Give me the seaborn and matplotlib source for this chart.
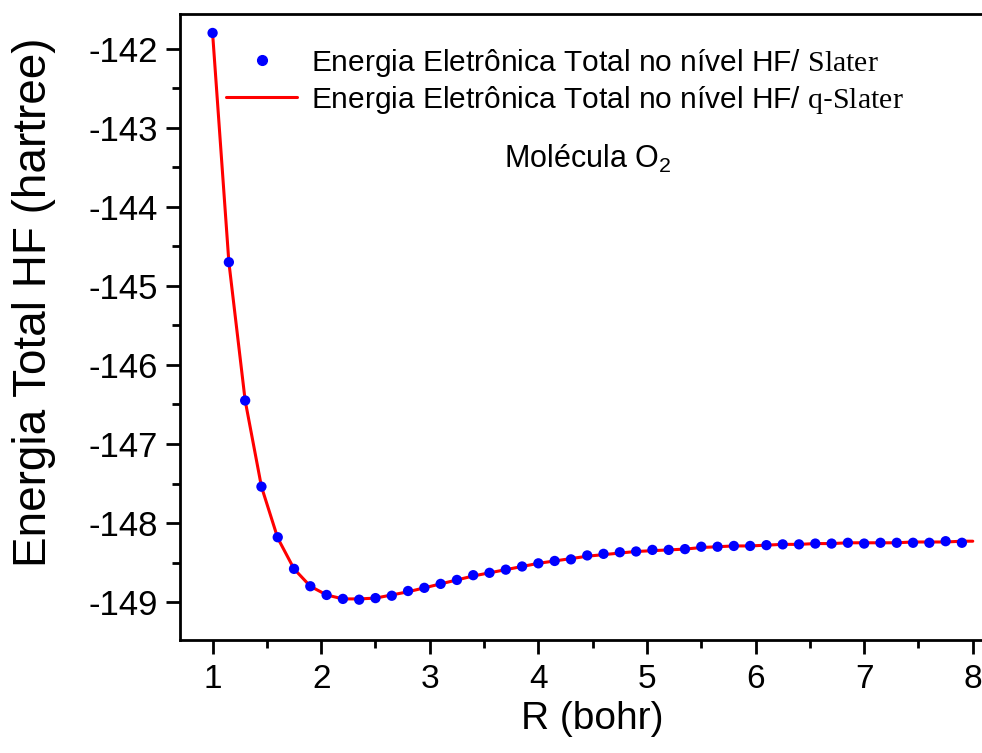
import matplotlib
matplotlib.use("Agg")
import matplotlib.pyplot as plt
import seaborn as sns
import pandas as pd
from matplotlib.lines import Line2D
from matplotlib.ticker import MultipleLocator

# ---- data ----
r_slater = [1.00, 1.15, 1.30, 1.45, 1.60, 1.75, 1.90, 2.05, 2.20, 2.35,
            2.50, 2.65, 2.80, 2.95, 3.10, 3.25, 3.40, 3.55, 3.70, 3.85,
            4.00, 4.15, 4.30, 4.45, 4.60, 4.75, 4.90, 5.05, 5.20, 5.35,
            5.50, 5.65, 5.80, 5.95, 6.10, 6.25, 6.40, 6.55, 6.70, 6.85,
            7.00, 7.15, 7.30, 7.45, 7.60, 7.75, 7.90]
e_slater = [-141.80, -144.70, -146.45, -147.54, -148.18, -148.58, -148.80, -148.91, -148.96, -148.97,
            -148.95, -148.92, -148.86, -148.82, -148.77, -148.72, -148.66, -148.63, -148.59, -148.55,
            -148.51, -148.48, -148.46, -148.41, -148.39, -148.37, -148.36, -148.34, -148.34, -148.33,
            -148.30, -148.30, -148.29, -148.29, -148.28, -148.27, -148.27, -148.26, -148.26, -148.25,
            -148.26, -148.25, -148.25, -148.25, -148.25, -148.23, -148.25]

r_qslater = r_slater + [8.00]
e_qslater = [-141.80, -144.70, -146.45, -147.54, -148.19, -148.58, -148.80, -148.91, -148.96, -148.96,
             -148.95, -148.91, -148.87, -148.82, -148.77, -148.72, -148.67, -148.63, -148.59, -148.55,
             -148.51, -148.48, -148.45, -148.42, -148.40, -148.38, -148.36, -148.35, -148.34, -148.33,
             -148.31, -148.30, -148.29, -148.29, -148.28, -148.27, -148.27, -148.26, -148.26, -148.25,
             -148.25, -148.25, -148.25, -148.24, -148.24, -148.24, -148.23, -148.23]

x_ticks = [1, 2, 3, 4, 5, 6, 7, 8]
y_ticks = [-142, -143, -144, -145, -146, -147, -148, -149]

label_slater = "Energia Eletrônica Total no nível HF/ $\\mathrm{Slater}$"
label_qslater = "Energia Eletrônica Total no nível HF/ $\\mathrm{q}$-$\\mathrm{Slater}$"
x_label = "R (bohr)"
y_label = "Energia Total HF (hartree)"
annotation = "Molécula O$_2$"

df_s = pd.DataFrame({"R": r_slater, "E": e_slater})
df_q = pd.DataFrame({"R": r_qslater, "E": e_qslater})

# ---- styling ----
sns.set_theme(style="ticks")
plt.rcParams["font.family"] = ["Liberation Sans", "DejaVu Sans"]
plt.rcParams["mathtext.fontset"] = "custom"
plt.rcParams["mathtext.rm"] = "Liberation Serif"
plt.rcParams["mathtext.it"] = "Liberation Sans:italic"
plt.rcParams["mathtext.sf"] = "Liberation Sans"
plt.rcParams["mathtext.default"] = "regular"
plt.rcParams["axes.unicode_minus"] = False
plt.rcParams["text.color"] = "black"
plt.rcParams["axes.labelcolor"] = "black"
plt.rcParams["xtick.color"] = "black"
plt.rcParams["ytick.color"] = "black"

fig = plt.figure(figsize=(9.82, 7.53), dpi=100)
ax = fig.add_axes([180 / 982, 113 / 753, 802 / 982, 626 / 753])

sns.lineplot(data=df_q, x="R", y="E", ax=ax, color="#ff0000", linewidth=2.2,
             sort=False, estimator=None, zorder=2)
sns.scatterplot(data=df_s, x="R", y="E", ax=ax, color="#0000ff", s=55,
                edgecolor="none", zorder=3)

ax.set_xlim(0.70, 8.085)
ax.set_ylim(-149.48, -141.56)
ax.set_xticks(x_ticks)
ax.set_yticks(y_ticks)
ax.xaxis.set_minor_locator(MultipleLocator(0.5))
ax.yaxis.set_minor_locator(MultipleLocator(0.5))
ax.tick_params(which="major", direction="out", length=10, width=2, colors="black")
ax.tick_params(axis="x", which="major", labelsize=24, pad=7)
ax.tick_params(axis="y", which="major", labelsize=25, pad=6)
ax.tick_params(which="minor", direction="out", length=6, width=2)
for side in ["left", "bottom", "top"]:
    ax.spines[side].set_linewidth(2)
    ax.spines[side].set_color("black")
ax.spines["right"].set_visible(False)

ax.set_xlabel(x_label, fontsize=28)
ax.set_ylabel(y_label, fontsize=33)
ax.xaxis.set_label_coords(0.514, -0.098)
ax.yaxis.set_label_coords(-0.155, 0.54)

handles = [
    Line2D([], [], color="#0000ff", marker="o", linestyle="none", markersize=7),
    Line2D([], [], color="#ff0000", linewidth=2.2),
]
ax.legend(handles, [label_slater, label_qslater], loc="upper left",
          bbox_to_anchor=(0.057, 0.948), frameon=False, fontsize=21.5,
          handlelength=2.4, handletextpad=0.45, labelspacing=0.18,
          borderpad=0, borderaxespad=0)

ax.text(4.45, -143.40, annotation, fontsize=22, ha="center", va="center")

fig.savefig("out.png", dpi=100)
